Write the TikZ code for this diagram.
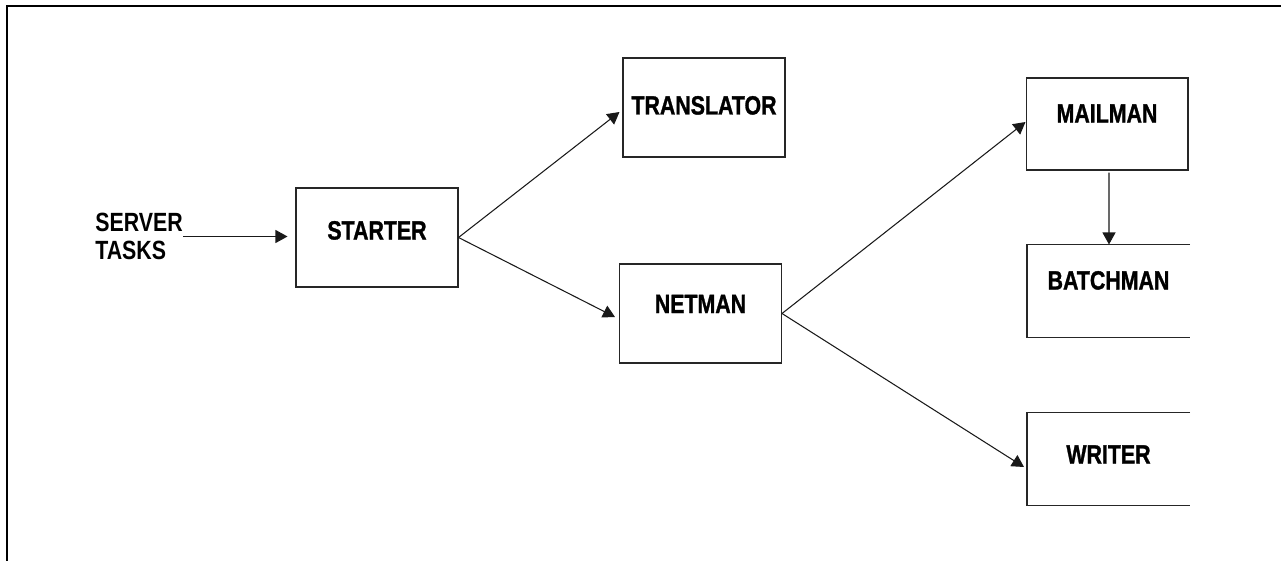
\documentclass[tikz,border=0pt]{standalone}
\usepackage{fontspec}
\setmainfont{Liberation Sans}
\newfontfamily\heavyfont{Liberation Sans}[BoldFeatures={FakeBold=1.3}]
\usepackage{graphicx}
\usetikzlibrary{arrows.meta,calc}

\newcommand{\tsk}[1]{\scalebox{0.81}[1]{#1}}

\tikzset{
	task/.style={shape=rectangle,draw=black!85,line width=0.6pt,minimum width=3.24cm,minimum height=1.98cm,text height=0.38cm,text depth=#1,inner sep=0pt,font=\fontsize{15}{16}\heavyfont\bfseries},
	task/.default=0pt,
	opentask/.style={task=#1,draw=none},
	side/.style={draw=black!85,line width=0.6pt},
	arr/.style={-{Triangle[length=0.24cm,width=0.26cm]},line width=0.6pt,black!90}
}

\begin{document}
\begin{tikzpicture}[x=0.02cm,y=-0.02cm,font=\fontsize{15}{16}\selectfont\bfseries]
	
	\useasboundingbox (0,0) rectangle (1281,561);
	\draw[line width=1.2pt] (7,561) -- (7,6) -- (1281,6);
	
	\node[align=left,inner sep=0pt,anchor=west] (srv) at (95,236.5) {\tsk{SERVER}\\\tsk{TASKS}};
	\node[task=0.3cm]  (starter)    at (377,237.5)  {\tsk{STARTER}};
	\node[task=0.1cm]  (translator) at (704,107.5)  {\tsk{TRANSLATOR}};
	\node[task=0.4cm]  (netman)     at (700.5,313.5) {\tsk{NETMAN}};
	\node[task=0.44cm,minimum height=1.84cm] (mailman) at (1107,124) {\tsk{MAILMAN}};
	\node[opentask=0.44cm,minimum height=1.84cm] (batchman) at (1108.5,291) {\tsk{BATCHMAN}};
	\node[opentask=0.2cm,minimum height=1.84cm]  (writer)   at (1108.5,459) {\tsk{WRITER}};
	
	% right sides are cut off
	\draw[side] (batchman.north east) -- (batchman.north west) -- (batchman.south west) -- (batchman.south east);
	\draw[side] (writer.north east) -- (writer.north west) -- (writer.south west) -- (writer.south east);
	
	\path[arr,shorten >=0.16cm] (srv.east) edge (srv.east -| starter.west);
	\path[arr] (starter.east) edge ($(translator.west)+(-3,4.5)$);
	\path[arr] (starter.east) edge ($(netman.west)+(-4,3.5)$);
	\path[arr] (netman.east)  edge ($(mailman.west)+(0,-2)$);
	\path[arr] (netman.east)  edge ($(writer.west)+(-3,8)$);
	\path[arr] ($(mailman.south)+(2,2)$) edge ($(batchman.north)+(0.5,0)$);
	
\end{tikzpicture}
\end{document}
